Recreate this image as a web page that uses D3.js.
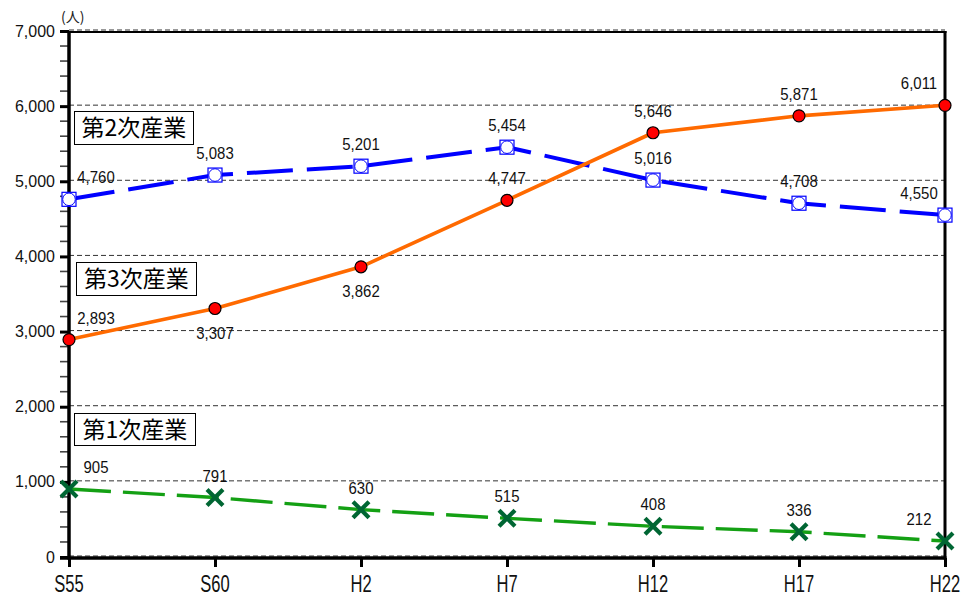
<!DOCTYPE html>
<html>
<head>
<meta charset="utf-8">
<script src="https://cdn.jsdelivr.net/npm/d3@7"></script>
<style>
  html, body { margin: 0; padding: 0; background: #fff; }
  svg { display: block; }
</style>
</head>
<body>
<svg id="chart" width="962" height="599"></svg>
<script>
// Census years (Showa / Heisei)
const years = ["S55", "S60", "H2", "H7", "H12", "H17", "H22"];
// Workers by industry (persons)
const primary   = [905, 791, 630, 515, 408, 336, 212];          // 第1次産業
const secondary = [4760, 5083, 5201, 5454, 5016, 4708, 4550];   // 第2次産業
const tertiary  = [2893, 3307, 3862, 4747, 5646, 5871, 6011];   // 第3次産業
// Y axis ticks
const yMajorTicks = [0, 1000, 2000, 3000, 4000, 5000, 6000, 7000];
const yMinorStep = 200;
const yUnit = "(人)";

const svg = d3.select("#chart");
const plot = { left: 69, right: 945, top: 31, bottom: 557 };

const x = d3.scalePoint().domain(years).range([plot.left, plot.right]).padding(0);
const y = d3.scaleLinear().domain([0, 7000]).range([plot.bottom, plot.top]);

const fmt = d3.format(",");
const LABEL_FONT = "'Liberation Sans', Arial, sans-serif";

// Horizontal dashed gridlines
svg.append("g")
  .selectAll("line")
  .data(yMajorTicks)
  .join("line")
  .attr("x1", plot.left).attr("x2", plot.right)
  .attr("y1", d => y(d) - 1).attr("y2", d => y(d) - 1)
  .attr("stroke", "#333").attr("stroke-width", 1)
  .attr("stroke-dasharray", "5,3");

// Y axis minor ticks
const minorTicks = d3.range(0, 7001, yMinorStep).filter(v => v % 1000 !== 0);
svg.append("g")
  .selectAll("line")
  .data(minorTicks)
  .join("line")
  .attr("x1", plot.left - 9).attr("x2", plot.left)
  .attr("y1", d => y(d)).attr("y2", d => y(d))
  .attr("stroke", "#444").attr("stroke-width", 1.6);

// Y axis with major ticks and labels
const yAxis = d3.axisLeft(y).tickValues(yMajorTicks).tickFormat(fmt).tickSize(9).tickPadding(5);
const gy = svg.append("g").attr("transform", `translate(${plot.left},0)`).call(yAxis);
gy.select(".domain").remove();
gy.selectAll(".tick line").attr("stroke", "#000").attr("stroke-width", 3);
gy.selectAll(".tick text")
  .attr("font-family", LABEL_FONT).attr("font-size", 16).attr("fill", "#111");

// X axis ticks and labels
const xAxis = d3.axisBottom(x).tickSize(9).tickPadding(0).tickFormat("");
const gx = svg.append("g").attr("transform", `translate(0,${plot.bottom + 1})`).call(xAxis);
gx.select(".domain").remove();
gx.selectAll(".tick line").attr("stroke", "#000").attr("stroke-width", 3);
svg.append("g")
  .selectAll("text")
  .data(years)
  .join("text")
  .attr("transform", d => `translate(${x(d)},592) scale(0.72,1)`)
  .attr("text-anchor", "middle")
  .attr("font-family", LABEL_FONT).attr("font-size", 23)
  .attr("fill", "#111")
  .text(d => d);

// Frame: top, right, left, bottom
svg.append("line").attr("x1", plot.left).attr("x2", plot.right + 1.5)
  .attr("y1", plot.top + 1).attr("y2", plot.top + 1)
  .attr("stroke", "#000").attr("stroke-width", 2);
svg.append("line").attr("x1", plot.right).attr("x2", plot.right)
  .attr("y1", plot.top).attr("y2", plot.bottom + 2.5)
  .attr("stroke", "#000").attr("stroke-width", 3);
svg.append("line").attr("x1", plot.left).attr("x2", plot.left)
  .attr("y1", plot.top).attr("y2", plot.bottom + 2.5)
  .attr("stroke", "#000").attr("stroke-width", 3.5);
svg.append("line").attr("x1", plot.left - 9).attr("x2", plot.right + 1.5)
  .attr("y1", plot.bottom + 1).attr("y2", plot.bottom + 1)
  .attr("stroke", "#000").attr("stroke-width", 3.5);

// Unit label
svg.append("text").attr("x", 61).attr("y", 22)
  .attr("font-family", "'Noto Sans CJK JP', sans-serif").attr("font-size", 14)
  .attr("fill", "#222").text(yUnit);

// Series definitions
const series = [
  { name: "第2次産業", values: secondary, color: "#0000ff", width: 4, dash: "46,14", marker: "squareCircle",
    labelSide: ["above", "above", "above", "above", "above", "above", "above"] },
  { name: "第3次産業", values: tertiary, color: "#ff6a00", width: 3.6, dash: null, marker: "dot",
    labelSide: ["above", "below", "below", "above", "above", "above", "above"] },
  { name: "第1次産業", values: primary, color: "#14a014", width: 3.4, dash: "42,12", marker: "cross",
    labelSide: ["above", "above", "above", "above", "above", "above", "above"] }
];

const line = d3.line().x((d, i) => x(years[i])).y(d => y(d));

series.forEach(s => {
  const g = svg.append("g");
  g.append("path")
    .attr("d", line(s.values))
    .attr("fill", "none")
    .attr("stroke", s.color)
    .attr("stroke-width", s.width)
    .attr("stroke-linejoin", "round")
    .attr("stroke-dasharray", s.dash);

  const pts = g.selectAll("g.pt").data(s.values).join("g")
    .attr("transform", (d, i) => `translate(${x(years[i])},${y(d)})`);

  if (s.marker === "squareCircle") {
    pts.append("rect").attr("x", -7).attr("y", -7).attr("width", 14).attr("height", 14)
      .attr("fill", "#fff").attr("stroke", "#0000ff").attr("stroke-width", 1.2);
    pts.append("circle").attr("r", 6.3)
      .attr("fill", "#fff").attr("stroke", "#0000ff").attr("stroke-width", 1);
  } else if (s.marker === "dot") {
    pts.append("circle").attr("r", 6)
      .attr("fill", "#ff0000").attr("stroke", "#000").attr("stroke-width", 1.2);
  } else {
    const c = 6.5;
    pts.append("path").attr("d", `M${-c},${-c}L${c},${c}M${-c},${c}L${c},${-c}`)
      .attr("stroke", "#006633").attr("stroke-width", 4.2).attr("stroke-linecap", "square");
  }

  // Value labels
  g.selectAll("text.val").data(s.values).join("text")
    .attr("class", "val")
    .attr("transform", (d, i) => {
      const n = s.values.length;
      const dx = i === 0 ? 27 : (i === n - 1 ? -26 : 0);
      const dy = s.labelSide[i] === "below" ? 30 : -16;
      return `translate(${x(years[i]) + dx},${y(d) + dy}) scale(0.88,1)`;
    })
    .attr("text-anchor", "middle")
    .attr("font-family", LABEL_FONT).attr("font-size", 17)
    .attr("fill", "#111")
    .text(d => fmt(d));
});

// Series name boxes
const nameBoxes = [
  { name: "第2次産業", x: 74, y: 111, w: 119, h: 33 },
  { name: "第3次産業", x: 76, y: 262, w: 120, h: 33 },
  { name: "第1次産業", x: 74, y: 413, w: 121, h: 32 }
];
const nb = svg.append("g").selectAll("g").data(nameBoxes).join("g");
nb.append("rect")
  .attr("x", d => d.x + 0.5).attr("y", d => d.y + 0.5)
  .attr("width", d => d.w).attr("height", d => d.h)
  .attr("fill", "#fff").attr("stroke", "#000").attr("stroke-width", 1);
nb.append("text")
  .attr("x", d => d.x + d.w / 2 + 0.5).attr("y", d => d.y + d.h / 2 + 8.5)
  .attr("text-anchor", "middle")
  .attr("font-family", "'Noto Sans CJK JP', sans-serif").attr("font-size", 23)
  .attr("fill", "#000")
  .text(d => d.name);
</script>
</body>
</html>
